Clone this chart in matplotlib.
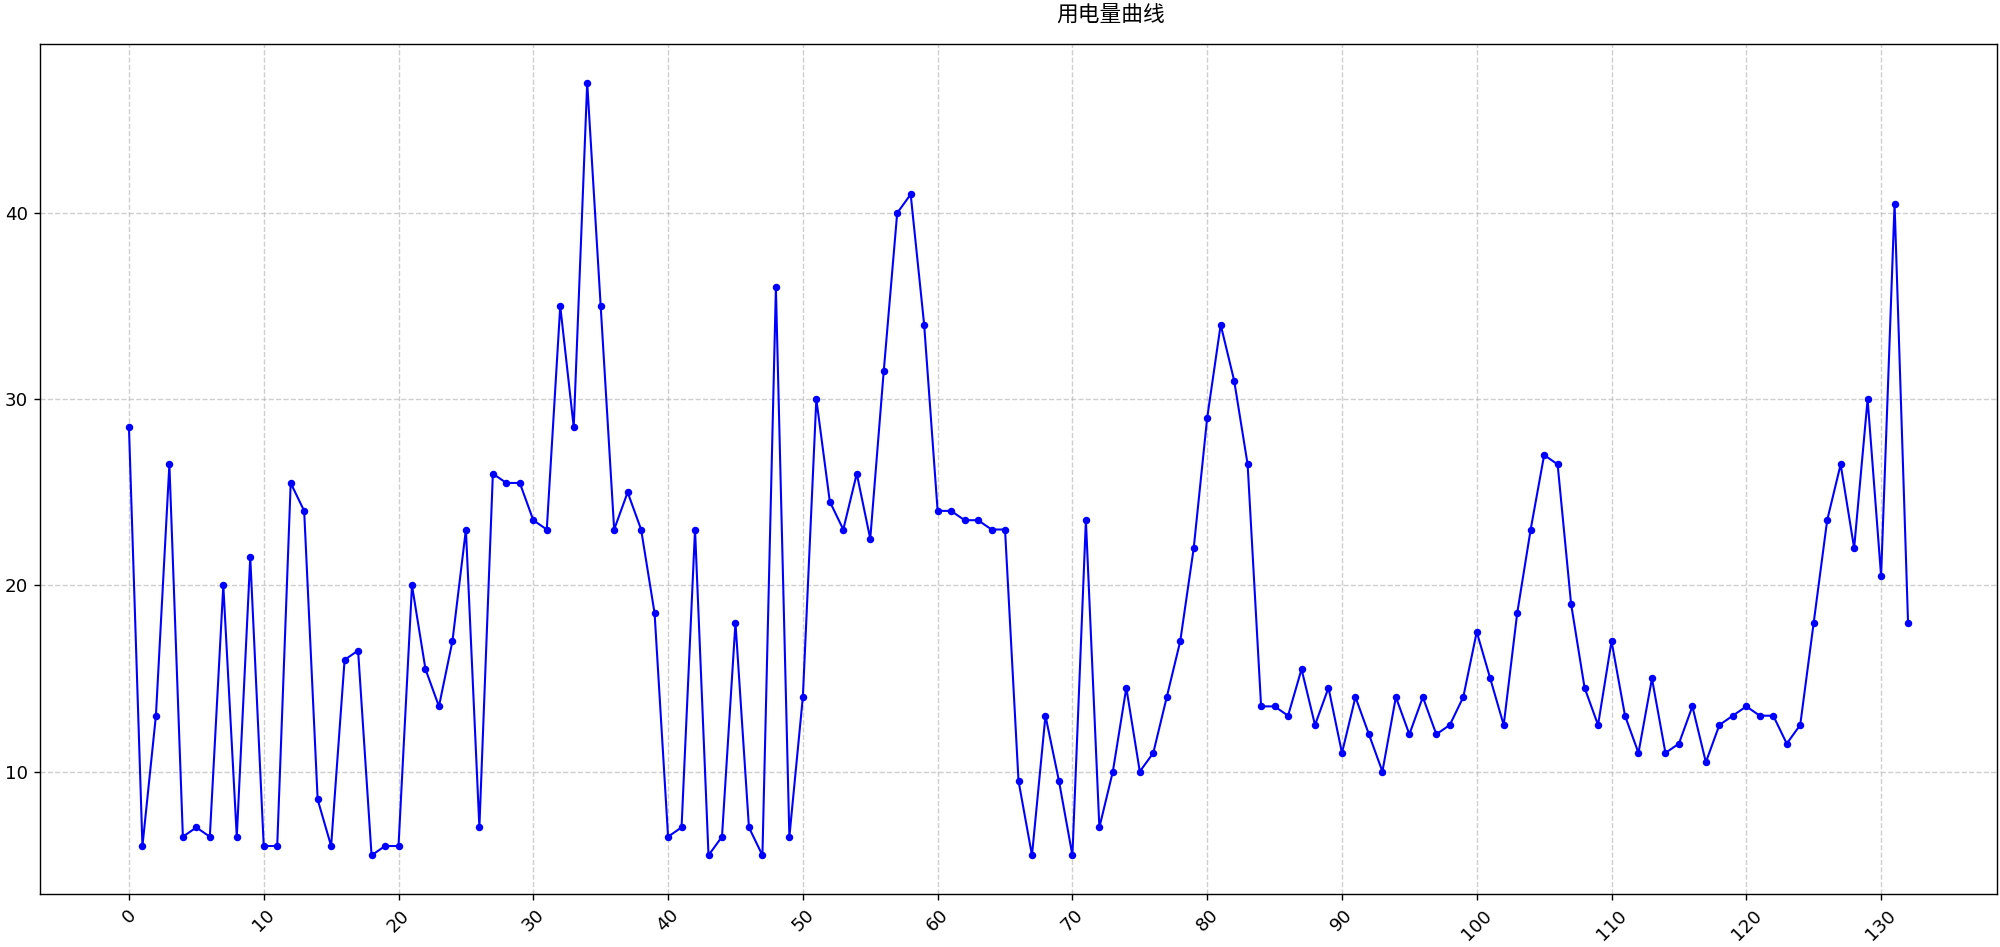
import numpy as np
import matplotlib
matplotlib.use('Agg')
import matplotlib.pyplot as plt
from matplotlib.ticker import MultipleLocator

plt.rcParams['font.family'] = ['DejaVu Sans', 'Noto Sans CJK SC']
plt.rcParams['axes.unicode_minus'] = False

# 用电量 values, one per index 0..132
usage = [
    28.5, 6, 13, 26.5, 6.5, 7, 6.5, 20, 6.5, 21.5,
    6, 6, 25.5, 24, 8.5, 6, 16, 16.5, 5.5, 6,
    6, 20, 15.5, 13.5, 17, 23, 7, 26, 25.5, 25.5,
    23.5, 23, 35, 28.5, 47, 35, 23, 25, 23, 18.5,
    6.5, 7, 23, 5.5, 6.5, 18, 7, 5.5, 36, 6.5,
    14, 30, 24.5, 23, 26, 22.5, 31.5, 40, 41, 34,
    24, 24, 23.5, 23.5, 23, 23, 9.5, 5.5, 13, 9.5,
    5.5, 23.5, 7, 10, 14.5, 10, 11, 14, 17, 22,
    29, 34, 31, 26.5, 13.5, 13.5, 13, 15.5, 12.5, 14.5,
    11, 14, 12, 10, 14, 12, 14, 12, 12.5, 14,
    17.5, 15, 12.5, 18.5, 23, 27, 26.5, 19, 14.5, 12.5,
    17, 13, 11, 15, 11, 11.5, 13.5, 10.5, 12.5, 13,
    13.5, 13, 13, 11.5, 12.5, 18, 23.5, 26.5, 22, 30,
    20.5, 40.5, 18,
]
x = np.arange(len(usage))

fig, ax = plt.subplots(figsize=(16, 7.576), dpi=125)
ax.plot(x, usage, color='blue', marker='o', markersize=3.3, linewidth=1.2)
ax.set_title('用电量曲线', fontsize=12.5, pad=13, x=0.547,
             family=['Noto Sans CJK SC', 'DejaVu Sans'])
ax.xaxis.set_major_locator(MultipleLocator(10))
ax.tick_params(labelsize=10.5)
ax.grid(True, linestyle='--', alpha=0.6)
plt.xticks(rotation=45)
fig.subplots_adjust(left=0.02, right=0.9985, top=0.9535, bottom=0.056)
plt.savefig('out.png')
